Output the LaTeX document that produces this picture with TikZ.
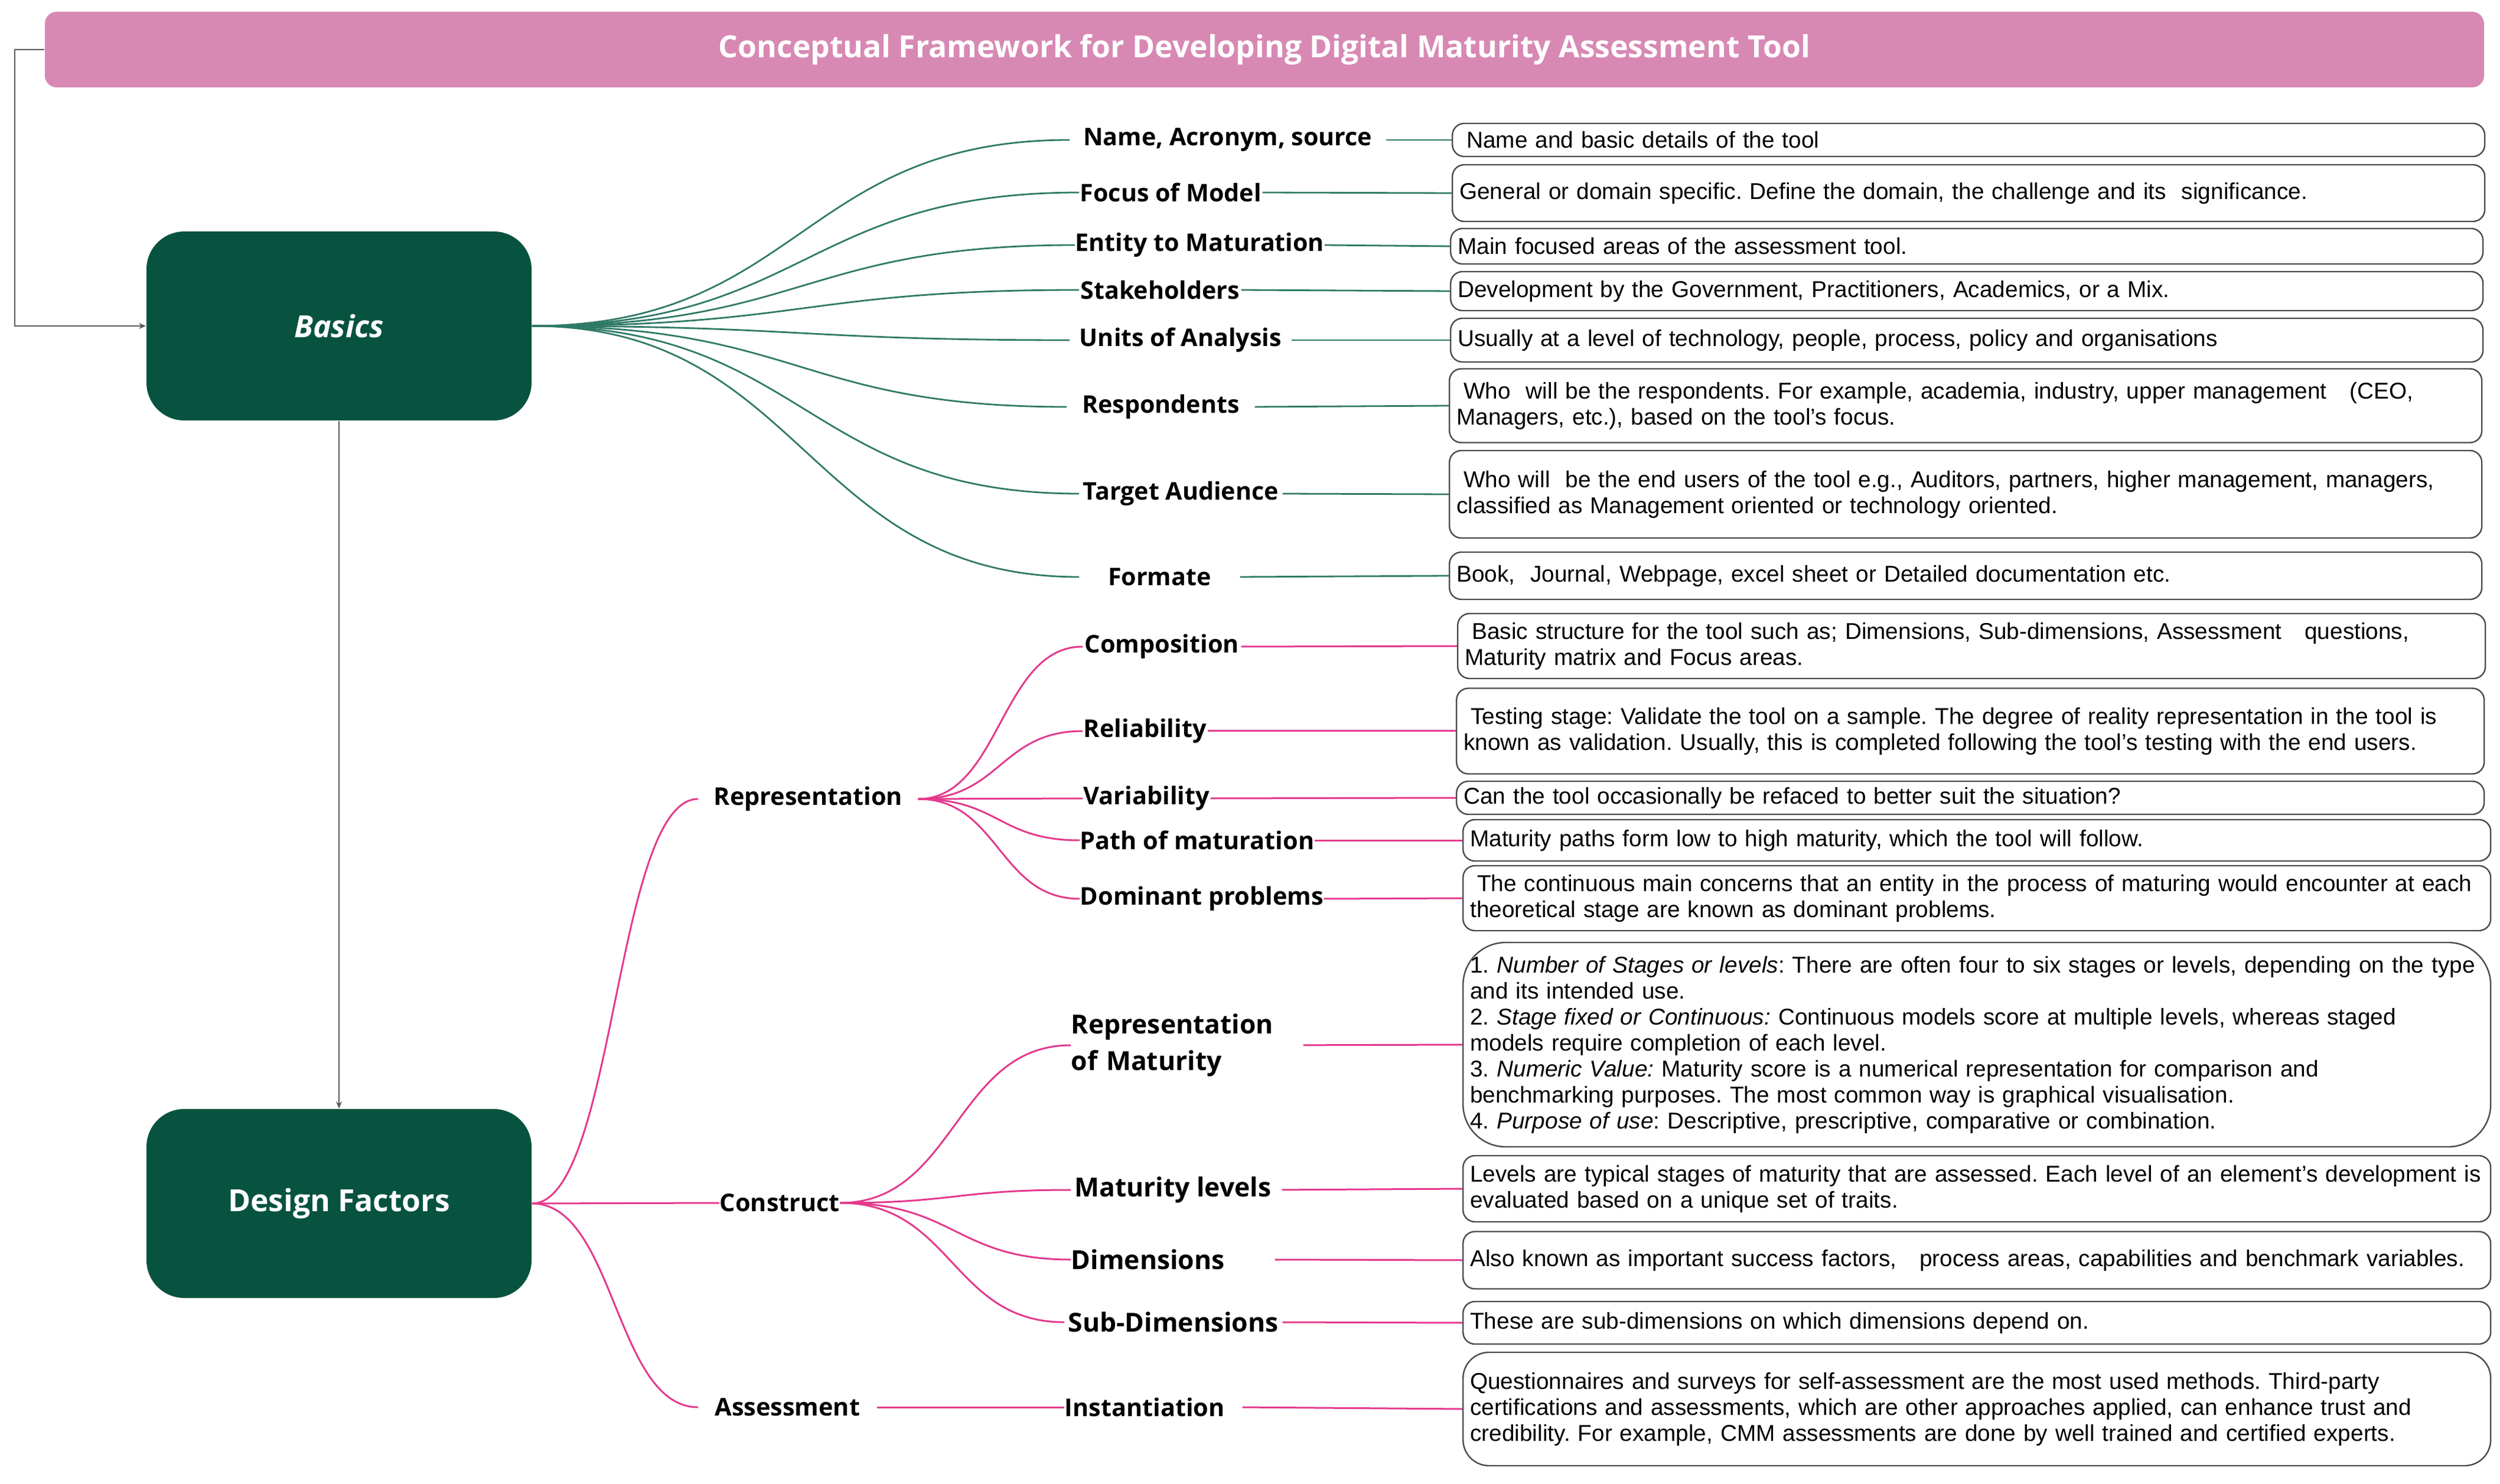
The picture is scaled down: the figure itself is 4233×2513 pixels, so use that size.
\documentclass[tikz,border=0pt]{standalone}
\usepackage{fontspec}
\setmainfont{Liberation Sans}
\newfontfamily\osans{Open Sans}
\usetikzlibrary{calc,arrows.meta}
\definecolor{titlepink}{HTML}{D789B4}
\definecolor{boxgreen}{HTML}{07533F}
\definecolor{linegreen}{HTML}{2F7A66}
\definecolor{linepink}{HTML}{E4398C}
\definecolor{boxline}{HTML}{4A4A4A}
\definecolor{arrowgray}{HTML}{5A5A5A}
\newcommand{\oneline}[1]{\mbox{#1}}
\begin{document}
\frenchspacing
\begin{tikzpicture}[x=0.25pt,y=-0.25pt,
  sc/.style={to path={let \p1=(\tikztostart), \p2=(\tikztotarget) in
     .. controls ({(\x1+\x2)/2},\y1) and ({(\x1+\x2)/2},\y2) .. (\tikztotarget) \tikztonodes}},
  titlebar/.style={fill=titlepink, rounded corners=5pt, minimum width=1032.5pt, minimum height=32pt,
     text=white, font=\osans\bfseries\fontsize{12.9pt}{15pt}\selectfont},
  gbox/.style={fill=boxgreen, rounded corners=16pt, minimum width=163pt, minimum height=80pt,
     text=white, font=\osans\bfseries\fontsize{12.9pt}{15pt}\selectfont},
  lblB/.style={anchor=west, inner xsep=0pt, inner ysep=1pt, font=\osans\bfseries\fontsize{10.3pt}{12pt}\selectfont},
  lblD/.style={anchor=west, inner xsep=0pt, inner ysep=1pt, font=\osans\bfseries\fontsize{10.35pt}{12pt}\selectfont},
  lblC/.style={anchor=west, inner xsep=0pt, inner ysep=1pt, font=\osans\bfseries\fontsize{11.1pt}{15.4pt}\selectfont},
  descA/.style={draw=boxline, line width=0.6pt, rounded corners=5pt, anchor=west, align=left,
     inner xsep=3pt, inner ysep=0pt, text width=431pt, font=\fontsize{9.7pt}{11pt}\selectfont},
  descB/.style={descA, text width=429pt},
  gline/.style={draw=linegreen, line width=0.7pt},
  pline/.style={draw=linepink, line width=0.75pt},
  garrow/.style={draw=arrowgray, line width=0.5pt, -{Stealth[length=3pt,width=2.5pt]}}
]
\fill[white] (0,0) rectangle (4233,2513);
\useasboundingbox (0,0) rectangle (4233,2513);

% title and main boxes
\node[titlebar] (title) at (2141,84) {Conceptual Framework for Developing Digital Maturity Assessment Tool};
\node[gbox, font=\osans\bfseries\itshape\fontsize{12.9pt}{15pt}\selectfont] (basics) at (574,552) {Basics};
\node[gbox] (df) at (574,2038) {Design Factors};
\coordinate (lc) at (25,552);
\draw[garrow] (title.west) -| (lc) -- (basics.west);
\draw[garrow] (basics.south) -- (df.north);

% Basics labels
\node[lblB, minimum width=133.5pt] (l1) at (1811,237) {Name, Acronym, source};
\node[lblB, minimum width=77.25pt] (l2) at (1827,326) {Focus of Model};
\node[lblB, minimum width=105pt] (l3) at (1820,415) {Entity to Maturation};
\node[lblB, minimum width=68.25pt] (l4) at (1827,491) {Stakeholders};
\node[lblB, minimum width=93.5pt] (l5) at (1811,576) {Units of Analysis};
\node[lblB, minimum width=79.25pt] (l6) at (1806,689) {Respondents};
\node[lblB, minimum width=85.75pt] (l7) at (1827,836) {Target Audience};
\node[lblB, minimum width=67.75pt] (l8) at (1827,977) {Formate};

% Basics description boxes
\node[descA, minimum height=14pt] (b1) at (2458,237) {\hspace*{3pt}Name and basic details of the tool};
\node[descA, minimum height=24pt] (b2) at (2458,327) {General or domain specific. Define the domain, the challenge and its\ \ significance.};
\node[descA, minimum height=15pt] (b3) at (2455,417) {Main focused areas of the assessment tool.};
\node[descA, minimum height=16.5pt] (b4) at (2455,493) {Development by the Government, Practitioners, Academics, or a Mix.};
\node[descA, minimum height=18.5pt] (b5) at (2455,576) {Usually at a level of technology, people, process, policy and organisations};
\node[descA, minimum height=31.25pt] (b6) at (2453,687) {\oneline{\hspace*{3pt}Who\ \ will be the respondents. For example, academia, industry, upper management\ \ \ (CEO,}\\\oneline{Managers, etc.), based on the tool's focus.}};
\node[descA, minimum height=37pt] (b7) at (2453,837) {\oneline{\hspace*{3pt}Who will\ \ be the end users of the tool e.g., Auditors, partners, higher management, managers,}\\\oneline{classified as Management oriented or technology oriented.}};
\node[descA, minimum height=20pt] (b8) at (2453,975) {Book,\ \ Journal, Webpage, excel sheet or Detailed documentation etc.};

% Basics connectors
\foreach \i in {1,...,8} {
  \draw[gline] (basics.east) to[sc] (l\i.west);
  \draw[gline] (l\i.east) -- (b\i.west);
}

% Design factors level 1
\node[lblD, minimum width=92.75pt] (rep) at (1182,1353) {Representation};
\node[lblD, minimum width=50.75pt] (cons) at (1218,2037) {Construct};
\node[lblD, minimum width=75.25pt] (assess) at (1182,2383) {Assessment};
\draw[pline] (df.east) to[sc] (rep.west);
\draw[pline] (df.east) -- (cons.west);
\draw[pline] (df.east) to[sc] (assess.west);

% Representation children
\node[lblD, minimum width=66.75pt] (r1) at (1833,1095) {Composition};
\node[lblD, minimum width=52.5pt] (r2) at (1833,1238) {Reliability};
\node[lblD, minimum width=53.75pt] (r3) at (1833,1352) {Variability};
\node[lblD, minimum width=98.5pt] (r4) at (1828,1423) {Path of maturation};
\node[lblD, minimum width=102.5pt] (r5) at (1828,1522) {Dominant problems};

\node[descB, minimum height=27.5pt] (b9) at (2467,1094) {\oneline{\hspace*{3pt}Basic structure for the tool such as; Dimensions, Sub-dimensions, Assessment\ \ \ questions,}\\\oneline{Maturity matrix and Focus areas.}};
\node[descB, minimum height=36.25pt] (b10) at (2465,1238) {\oneline{\hspace*{3pt}Testing stage: Validate the tool on a sample. The degree of reality representation in the tool is}\\\oneline{known as validation. Usually, this is completed following the tool's testing with the end users.}};
\node[descB, minimum height=14pt] (b11) at (2465,1351) {Can the tool occasionally be refaced to better suit the situation?};
\node[descB, minimum height=17.5pt] (b12) at (2476,1423) {Maturity paths form low to high maturity, which the tool will follow.};
\node[descB, minimum height=27.5pt] (b13) at (2476,1521) {\oneline{\hspace*{3pt}The continuous main concerns that an entity in the process of maturing would encounter at each}\\\oneline{theoretical stage are known as dominant problems.}};

\foreach \i/\j in {1/9,2/10,3/11,4/12,5/13} {
  \draw[pline] (rep.east) to[sc] (r\i.west);
  \draw[pline] (r\i.east) -- (b\j.west);
}

% Construct children
\node[lblC, align=left, text width=88pt] (c1) at (1813,1770) {Representation\\of Maturity};
\node[lblC, minimum width=86pt] (c2) at (1813,2015) {Maturity levels};
\node[lblC, align=left, text width=86pt] (c3) at (1813,2133) {Dimensions};
\node[lblC, minimum width=92pt] (c4) at (1802,2239) {Sub-Dimensions};
\node[lblD, align=left, text width=75pt] (inst) at (1802,2383) {Instantiation};

\node[descB, minimum height=86.5pt, rounded corners=18pt] (b14) at (2476,1769) {\oneline{1. \textit{Number of Stages or levels}: There are often four to six stages or levels, depending on the type}\\\oneline{and its intended use.}\\\oneline{2. \textit{Stage fixed or Continuous:} Continuous models score at multiple levels, whereas staged}\\\oneline{models require completion of each level.}\\\oneline{3. \textit{Numeric Value:} Maturity score is a numerical representation for comparison and}\\\oneline{benchmarking purposes. The most common way is graphical visualisation.}\\\oneline{4. \textit{Purpose of use}: Descriptive, prescriptive, comparative or combination.}};
\node[descB, minimum height=28pt] (b15) at (2476,2013) {\oneline{Levels are typical stages of maturity that are assessed. Each level of an element's development is}\\\oneline{evaluated based on a unique set of traits.}};
\node[descB, minimum height=24.25pt] (b16) at (2476,2134) {\oneline{Also known as important success factors,\ \ \ process areas, capabilities and benchmark variables.}};
\node[descB, minimum height=18pt] (b17) at (2476,2240) {These are sub-dimensions on which dimensions depend on.};
\node[descB, minimum height=48pt, rounded corners=11pt] (b18) at (2476,2386) {\oneline{Questionnaires and surveys for self-assessment are the most used methods. Third-party}\\\oneline{certifications and assessments, which are other approaches applied, can enhance trust and}\\\oneline{credibility. For example, CMM assessments are done by well trained and certified experts.}};

\foreach \i in {1,...,4} {
  \draw[pline] (cons.east) to[sc] (c\i.west);
}
\draw[pline, shorten <=10pt] (c1.east) -- (b14.west);
\draw[pline, shorten <=3pt] (c2.east) -- (b15.west);
\draw[pline] (c3.east) -- (b16.west);
\draw[pline] (c4.east) -- (b17.west);
\draw[pline] (assess.east) -- (inst.west);
\draw[pline] (inst.east) -- (b18.west);
\end{tikzpicture}
\end{document}
